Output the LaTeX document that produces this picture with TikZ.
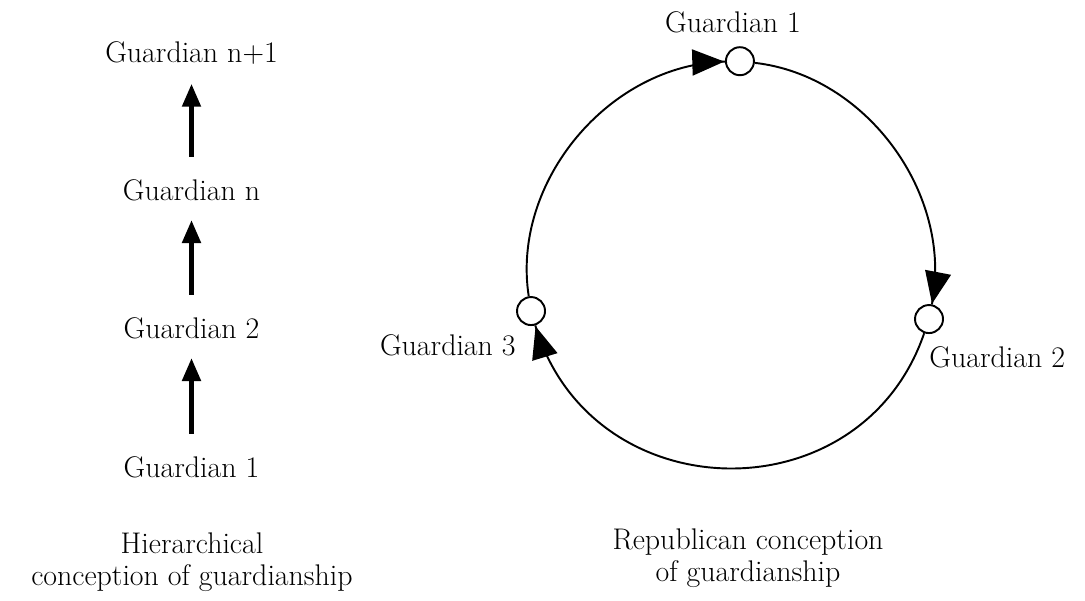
\documentclass[tikz,border=0pt]{standalone}
\usepackage{tikz}
\usetikzlibrary{positioning, arrows.meta, calc, decorations.markings}

\begin{document}
\begin{tikzpicture}[
    every node/.style={align=center},
    lbl/.style={font=\fontsize{17}{18.5}\selectfont, inner sep=0pt},
    dot/.style={circle, draw, line width=1.1pt, minimum size=0.56cm, inner sep=0pt},
    uparr/.style={-{Triangle[length=4.6mm,width=3.6mm]}, line width=2.8pt, shorten <=0.44cm, shorten >=0.38cm},
    cyc/.style={line width=1.1pt, postaction={decorate},
        decoration={markings, mark=at position 0.998 with {\arrow{Triangle[length=6.4mm,width=5.2mm]}}}}
]
    \useasboundingbox (0,0) rectangle (21.7,12);

    % hierarchical conception
    \node[lbl] (h1) at (3.83,2.66) {Guardian 1};
    \node[lbl] (h2) at (3.83,5.44) {Guardian 2};
    \node[lbl] (hn) at (3.83,8.2) {Guardian n};
    \node[lbl] (hn1) at (3.83,10.94) {Guardian n+1};
    \draw[uparr] (h1) -- (h2);
    \draw[uparr] (h2) -- (hn);
    \draw[uparr] (hn) -- (hn1);
    \node[lbl] (hcap) at (3.84,0.76) {Hierarchical\\conception of guardianship};

    % republican conception
    \coordinate (ctr) at (14.62,6.68);
    \node[dot] (r1) at ($(ctr)+(87.5:4.1)$) {};
    \node[dot] (r2) at ($(ctr)+(-15:4.1)$) {};
    \node[dot] (r3) at ($(ctr)+(192.7:4.1)$) {};
    \draw[cyc] (r3) to[bend left=48.7, looseness=0.97] (r1);
    \draw[cyc] (r1) to[bend left=47.35, looseness=0.96] (r2);
    \draw[cyc] (r2) to[bend left=72.25, looseness=1.28] (r3);
    \node[lbl, above=0.26cm of r1, xshift=-0.14cm] (r1t) {Guardian 1};
    \node[lbl, anchor=north west] (r2t) at ([yshift=-0.24cm]r2.south) {Guardian 2};
    \node[lbl, anchor=north east] (r3t) at ($(r3.west |- r3.south)+(0,-0.16)$) {Guardian 3};
    \node[lbl] (rcap) at (14.96,0.84) {Republican conception\\of guardianship};
\end{tikzpicture}
\end{document}
